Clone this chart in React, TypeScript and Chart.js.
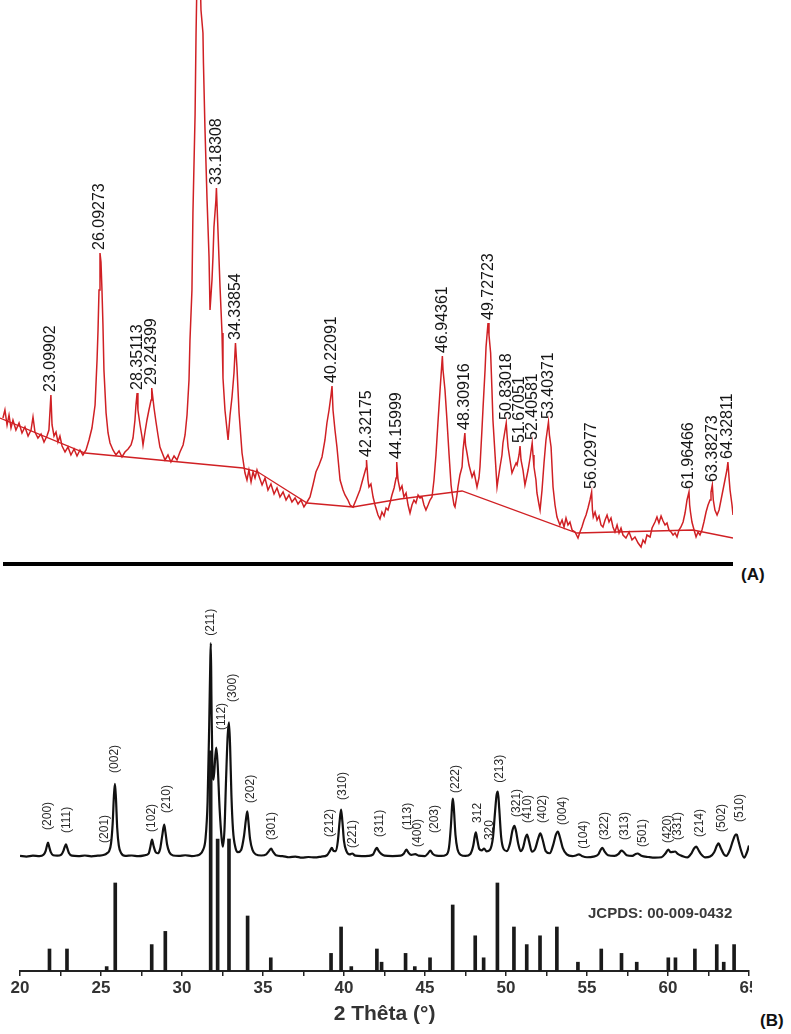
import React, { useEffect, useRef } from "react";
import { Chart, registerables } from "chart.js";

Chart.register(...registerables);

// ---------- Panel (A): measured pattern, 2θ (°) vs intensity (a.u.) ----------
const A_PATTERN: [number, number][] = [
  [20.18,147],[20.30,155],[20.43,140],[20.55,150],[20.67,137],[20.79,145],[20.97,135],[21.16,142],[21.34,132],[21.52,138],
  [21.71,129],[21.89,135],[22.01,148],[22.13,133],[22.31,127],[22.50,131],[22.68,123],[22.86,129],[22.98,135],[23.10,170],
  [23.17,140],[23.29,129],[23.41,133],[23.53,123],[23.65,129],[23.78,119],[23.96,113],[24.14,118],[24.32,110],[24.51,116],
  [24.69,109],[24.87,115],[25.05,110],[25.24,115],[25.42,125],[25.60,137],[25.79,160],[25.91,205],[25.97,235],[26.03,275],
  [26.09,312],[26.15,303],[26.21,275],[26.27,240],[26.33,195],[26.46,152],[26.58,132],[26.70,122],[26.88,115],[27.06,110],
  [27.25,114],[27.43,108],[27.61,113],[27.80,116],[27.98,120],[28.10,127],[28.22,145],[28.28,160],[28.35,172],[28.40,155],
  [28.53,140],[28.65,128],[28.71,120],[28.83,133],[28.95,145],[29.07,155],[29.20,165],[29.24,177],[29.38,157],[29.50,143],
  [29.62,130],[29.74,118],[29.93,110],[30.05,105],[30.23,110],[30.41,103],[30.60,109],[30.78,105],[30.96,113],[31.15,120],
  [31.27,130],[31.39,150],[31.51,185],[31.57,225],[31.69,275],[31.75,352],[31.88,450],[31.94,532],[32.00,590],[32.06,610],
  [32.12,600],[32.18,595],[32.24,555],[32.36,532],[32.39,502],[32.48,438],[32.61,365],[32.73,308],[32.79,255],[32.91,285],
  [32.97,308],[33.03,338],[33.15,365],[33.18,377],[33.28,332],[33.40,278],[33.52,232],[33.58,187],[33.70,155],[33.89,125],
  [34.01,150],[34.13,168],[34.25,192],[34.34,222],[34.43,198],[34.56,152],[34.74,112],[34.92,92],[35.04,85],[35.16,95],
  [35.29,83],[35.41,93],[35.53,87],[35.65,95],[35.77,89],[35.96,80],[36.14,87],[36.32,75],[36.50,81],[36.69,71],
  [36.87,77],[37.05,68],[37.24,73],[37.42,65],[37.60,70],[37.78,63],[37.97,67],[38.15,61],[38.33,65],[38.51,58],
  [38.70,63],[38.88,68],[39.06,80],[39.24,93],[39.43,100],[39.61,108],[39.79,125],[39.91,142],[40.04,155],[40.16,170],
  [40.22,179],[40.28,155],[40.40,135],[40.52,118],[40.71,85],[40.89,75],[41.01,70],[41.19,65],[41.32,60],[41.50,58],
  [41.68,65],[41.80,70],[41.92,75],[42.05,83],[42.17,90],[42.29,97],[42.32,105],[42.41,85],[42.47,78],[42.59,81],
  [42.72,68],[42.84,60],[43.02,50],[43.14,46],[43.26,53],[43.39,49],[43.51,57],[43.63,55],[43.75,62],[43.87,70],
  [44.00,77],[44.12,87],[44.16,103],[44.24,85],[44.36,75],[44.48,79],[44.60,68],[44.73,72],[44.85,60],[44.97,52],
  [45.09,60],[45.21,65],[45.33,62],[45.46,70],[45.58,67],[45.70,68],[45.82,60],[45.94,55],[46.07,60],[46.19,65],
  [46.31,68],[46.43,85],[46.55,110],[46.67,142],[46.80,175],[46.94,209],[46.98,195],[47.10,175],[47.22,145],[47.35,110],
  [47.47,80],[47.53,72],[47.65,60],[47.71,58],[47.83,70],[47.89,78],[48.01,90],[48.14,98],[48.20,115],[48.31,132],
  [48.35,120],[48.44,112],[48.56,100],[48.75,88],[48.87,93],[49.05,78],[49.17,87],[49.23,98],[49.35,135],[49.42,158],
  [49.54,195],[49.60,218],[49.72,242],[49.78,230],[49.88,212],[49.96,175],[50.02,145],[50.15,110],[50.27,78],[50.33,85],
  [50.45,98],[50.57,110],[50.63,122],[50.76,135],[50.83,142],[50.88,130],[50.94,118],[51.06,105],[51.18,92],[51.30,97],
  [51.43,102],[51.49,100],[51.61,110],[51.67,119],[51.73,105],[51.85,95],[51.97,80],[52.10,90],[52.16,95],[52.28,107],
  [52.41,122],[52.46,110],[52.52,98],[52.64,85],[52.70,72],[52.83,60],[52.89,55],[53.01,75],[53.13,102],[53.25,125],
  [53.40,143],[53.46,130],[53.56,118],[53.68,78],[53.80,60],[53.92,48],[54.10,40],[54.23,45],[54.35,38],[54.47,47],
  [54.59,40],[54.71,43],[54.84,35],[55.02,33],[55.20,27],[55.32,33],[55.44,38],[55.57,45],[55.69,50],[55.81,57],
  [55.93,65],[56.03,73],[56.08,55],[56.13,48],[56.24,53],[56.36,45],[56.48,49],[56.60,40],[56.72,38],[56.85,45],
  [56.97,50],[57.09,43],[57.21,47],[57.33,38],[57.45,33],[57.58,40],[57.70,32],[57.82,37],[57.94,30],[58.12,27],
  [58.31,33],[58.49,25],[58.67,28],[58.86,22],[59.04,18],[59.16,25],[59.28,22],[59.40,30],[59.59,28],[59.71,37],
  [59.89,43],[60.01,48],[60.13,42],[60.26,49],[60.38,44],[60.50,40],[60.62,42],[60.74,35],[60.87,33],[60.99,30],
  [61.11,32],[61.23,28],[61.35,35],[61.47,38],[61.60,43],[61.72,52],[61.84,65],[61.96,73],[62.00,60],[62.05,53],
  [62.14,43],[62.27,35],[62.39,28],[62.51,33],[62.63,30],[62.75,35],[62.87,43],[63.00,53],[63.12,60],[63.24,65],
  [63.30,73],[63.38,80],[63.44,65],[63.54,55],[63.67,50],[63.79,55],[63.91,65],[64.03,75],[64.15,85],[64.27,95],
  [64.33,103],[64.40,87],[64.46,75],[64.58,60],[64.64,50],
];

const A_BACKGROUND: [number, number][] = [
  [20.0,147],[25.18,112],[34.80,97],[35.71,93],[38.70,62],[41.50,58],[44.36,66],[48.14,74],[55.14,32],[62.20,35],[64.64,27],
];

const A_PEAK_LABELS = [
  "23.09902","26.09273","28.35113","29.24399","33.18308","34.33854","40.22091","42.32175","44.15999","46.94361",
  "48.30916","49.72723","50.83018","51.67051","52.40581","53.40371","56.02977","61.96466","63.38273","64.32811",
];
const A_PEAK_HEIGHTS = [170,312,172,177,377,222,179,105,103,209,132,242,142,119,122,143,73,73,80,103];

// ---------- Panel (B): sample pattern + JCPDS 00-009-0432 reference ----------
const B_PATTERN: [number, number][] = [
  [20.0,0.3],[20.4,0],[20.8,0.4],[21.2,0.2],[21.45,0.8],[21.58,2.5],[21.66,4.8],[21.73,6.4],[21.80,4.5],[21.9,2.0],
  [22.05,0.6],[22.3,0.4],[22.55,0.9],[22.68,2.6],[22.77,4.6],[22.84,5.5],[22.92,3.8],[23.02,1.6],[23.2,0.4],[23.6,0.2],
  [24.0,0.5],[24.4,0.1],[24.8,0.4],[25.2,0.8],[25.38,1.6],[25.5,2.5],[25.62,6],[25.72,15],[25.8,28],[25.86,33],
  [25.92,27],[26.0,13],[26.1,5],[26.25,1.5],[26.5,0.3],[26.9,0.5],[27.3,0.2],[27.7,0.6],[27.95,1.5],[28.05,4.5],
  [28.15,7.7],[28.24,5],[28.36,2.2],[28.5,1.5],[28.65,3.5],[28.78,9.5],[28.9,14.5],[28.98,11],[29.08,5.5],[29.22,2],
  [29.45,0.5],[29.8,0.3],[30.2,0.6],[30.6,0.2],[30.9,0.5],[31.1,1],[31.3,3],[31.45,8],[31.58,25],[31.68,60],
  [31.75,90],[31.78,97],[31.82,70],[31.88,40],[31.95,35],[32.05,45],[32.12,49.5],[32.2,42],[32.32,22],[32.45,8],
  [32.52,4.5],[32.62,12],[32.72,35],[32.82,55],[32.9,61],[32.97,50],[33.05,28],[33.15,12],[33.3,4],[33.45,2],
  [33.65,3],[33.82,9],[33.95,17],[34.03,20.5],[34.1,16],[34.2,8],[34.35,3],[34.55,1],[34.9,0.5],[35.2,1],
  [35.38,2.6],[35.5,3.6],[35.62,2.2],[35.8,0.6],[36.2,0.2],[36.6,-0.3],[37.0,0],[37.4,-0.5],[37.8,-0.2],[38.2,-0.4],
  [38.6,0],[38.95,0.6],[39.15,2.8],[39.25,4],[39.35,2.6],[39.5,2.5],[39.62,7],[39.73,16],[39.82,21.4],[39.9,16],
  [40.0,7],[40.15,2.5],[40.35,1],[40.5,1.4],[40.7,0.4],[41.1,0.2],[41.5,0.3],[41.8,1],[41.93,3],[42.03,4],
  [42.12,2.8],[42.3,1.2],[42.5,0.4],[43.0,0.2],[43.5,0.4],[43.7,1.4],[43.85,3.2],[43.98,1.8],[44.15,0.8],[44.4,1.1],
  [44.6,0.4],[45.0,0.2],[45.18,1.4],[45.33,2.7],[45.47,1.3],[45.7,0.4],[46.0,0.3],[46.3,0.8],[46.48,4],[46.6,14],
  [46.68,24],[46.72,26.4],[46.78,22],[46.88,10],[47.0,3.5],[47.2,0.8],[47.5,0.3],[47.8,1.2],[47.98,5],[48.08,9.5],
  [48.14,11],[48.22,8],[48.35,3.5],[48.5,2.8],[48.65,3.6],[48.8,2.4],[49.0,3],[49.2,9],[49.32,20],[49.42,28],
  [49.5,29.5],[49.58,22],[49.7,9],[49.85,3.5],[50.05,2.5],[50.25,6],[50.4,12],[50.52,14],[50.62,11.5],[50.75,6],
  [50.9,2.5],[51.05,4],[51.2,8.5],[51.3,10],[51.42,7],[51.6,2.2],[51.8,3.5],[51.98,8],[52.12,10.5],[52.25,8],
  [52.45,2.5],[52.7,1.5],[52.9,5],[53.08,10],[53.2,11.4],[53.32,9],[53.5,4],[53.75,1],[54.1,0.2],[54.35,0.6],
  [54.5,1],[54.68,0.3],[55.0,-0.3],[55.4,0],[55.7,1],[55.85,3.2],[55.95,4],[56.08,2.4],[56.3,0.6],[56.7,0.3],
  [56.95,1.2],[57.12,2.7],[57.25,2.2],[57.45,0.6],[57.8,0.3],[58.0,1.2],[58.12,1.4],[58.35,0.4],[58.8,-0.2],[59.2,-0.5],
  [59.6,-0.3],[59.85,1.5],[60.02,3.2],[60.15,2],[60.3,2.1],[60.45,2.3],[60.6,1.2],[60.9,0.2],[61.2,-0.4],[61.45,1.5],
  [61.62,3.8],[61.75,4.5],[61.88,3],[62.05,1],[62.3,-0.4],[62.6,0],[62.85,2],[63.02,5],[63.12,6],[63.25,4],
  [63.45,1],[63.6,0.3],[63.82,3],[64.02,7.5],[64.18,10],[64.25,10],[64.32,8],[64.5,3],[64.7,-0.5],[64.85,1.5],
  [65.0,5],
];
const B_PATTERN_OFFSET = 52; // vertical shift of the sample pattern above the reference sticks

const JCPDS_TWO_THETA = [
  21.82,22.90,25.35,25.88,28.13,28.97,31.77,32.20,32.90,34.05,35.48,39.20,39.82,40.45,42.03,42.32,43.80,44.37,45.31,
  46.71,48.10,48.62,49.47,50.49,51.28,52.10,53.14,54.44,55.88,57.13,58.07,60.02,60.46,61.66,63.01,63.44,64.08,
];
const JCPDS_I = [
  10,10,2,40,12,18,100,60,60,25,6,8,20,2,10,4,8,2,6,30,16,6,40,20,12,16,20,4,10,8,4,6,6,10,12,4,12,
];

const HKL_LABELS = [
  "(200)","(111)","(201)","(002)","(102)","(210)","(211)","(112)","(300)","(202)","(301)","(212)","(310)","(221)",
  "(311)","(113)","(400)","(203)","(222)","312","320","(213)","(321)","(410)","(402)","(004)","(104)","(322)",
  "(313)","(501)","(420)","(331)","(214)","(502)","(510)",
];
const HKL_TWO_THETA = [
  21.73,22.9,25.25,25.86,28.15,29.07,31.79,32.47,33.15,34.26,35.56,39.14,39.94,40.56,42.22,43.95,44.57,45.62,
  46.91,48.27,49.01,49.63,50.68,51.36,52.28,53.52,54.81,56.11,57.35,58.46,60.0,60.62,61.98,63.33,64.44,
];
const HKL_LABEL_Y = [
  64.1,62.7,58.2,90,63.2,71.8,152.3,109.5,122.3,76.4,59.5,60.9,77.7,55.9,60.9,64.1,56.4,62.7,80.9,67.3,59.5,
  85.5,70,67.3,67.3,66.4,55.5,59.5,59.5,56.4,58.2,59.5,60.9,63.2,67.7,
];

const X_MIN = 20;
const X_MAX = 65;
const X_STEP = 2.5;
const X_TITLE = "2 Thêta (°)";
const JCPDS_TEXT = "JCPDS: 00-009-0432";

const FONT = '"Liberation Sans", Arial, sans-serif';
const RED = "rgb(208,32,36)";

const peakLabelsA = {
  id: "peakLabelsA",
  afterDatasetsDraw(chart: any) {
    const { ctx, scales } = chart;
    ctx.save();
    ctx.font = `16px ${FONT}`;
    ctx.fillStyle = "#151515";
    ctx.textAlign = "left";
    ctx.textBaseline = "middle";
    A_PEAK_LABELS.forEach((t, i) => {
      const px = scales.x.getPixelForValue(parseFloat(t));
      const py = scales.y.getPixelForValue(A_PEAK_HEIGHTS[i]) - 3;
      ctx.save();
      ctx.translate(px, py);
      ctx.rotate(-Math.PI / 2);
      ctx.fillText(t, 0, 0);
      ctx.restore();
    });
    ctx.restore();
  },
};

const hklLabelsB = {
  id: "hklLabelsB",
  afterDatasetsDraw(chart: any) {
    const { ctx, scales } = chart;
    ctx.save();
    ctx.font = `12px ${FONT}`;
    ctx.fillStyle = "#2a2a2a";
    ctx.textAlign = "left";
    ctx.textBaseline = "middle";
    HKL_LABELS.forEach((t, i) => {
      const px = scales.x.getPixelForValue(HKL_TWO_THETA[i]);
      const py = scales.y.getPixelForValue(HKL_LABEL_Y[i]);
      ctx.save();
      ctx.translate(px, py);
      ctx.rotate(-Math.PI / 2);
      ctx.fillText(t, 0, 0);
      ctx.restore();
    });
    ctx.restore();
  },
};

export default function App() {
  const refA = useRef<HTMLCanvasElement>(null);
  const refB = useRef<HTMLCanvasElement>(null);

  useEffect(() => {
    const chartA = new Chart(refA.current as HTMLCanvasElement, {
      type: "line",
      data: {
        datasets: [
          {
            data: A_PATTERN.map(([x, y]) => ({ x, y })),
            borderColor: RED,
            borderWidth: 1.5,
            pointRadius: 0,
            tension: 0,
          },
          {
            data: A_BACKGROUND.map(([x, y]) => ({ x, y })),
            borderColor: RED,
            borderWidth: 1.3,
            pointRadius: 0,
            tension: 0,
          },
        ],
      },
      options: {
        animation: false,
        responsive: false,
        events: [],
        layout: { padding: 0 },
        plugins: { legend: { display: false }, tooltip: { enabled: false } },
        scales: {
          x: { type: "linear", min: 20, max: 64.64, display: false },
          y: { min: 0, max: 565, display: false },
        },
      },
      plugins: [peakLabelsA],
    } as any);

    const chartB = new Chart(refB.current as HTMLCanvasElement, {
      type: "line",
      data: {
        datasets: [
          {
            type: "line",
            data: B_PATTERN.map(([x, y]) => ({ x, y: y + B_PATTERN_OFFSET })),
            borderColor: "#111",
            borderWidth: 2.2,
            pointRadius: 0,
            tension: 0.3,
            cubicInterpolationMode: "monotone",
          },
          {
            type: "bar",
            data: JCPDS_TWO_THETA.map((x, i) => ({ x, y: JCPDS_I[i] })),
            backgroundColor: "#1a1a1a",
            borderWidth: 0,
            barThickness: 3,
          },
        ],
      },
      options: {
        animation: false,
        responsive: false,
        events: [],
        layout: { padding: { left: 20, right: 42, top: 0, bottom: 0 } },
        plugins: { legend: { display: false }, tooltip: { enabled: false } },
        scales: {
          x: {
            type: "linear",
            min: X_MIN,
            max: X_MAX,
            offset: false,
            afterFit: (s: any) => {
              s.height = 63;
            },
            ticks: {
              stepSize: X_STEP,
              autoSkip: false,
              maxRotation: 0,
              padding: 2,
              color: "#333",
              font: { family: FONT, size: 17, weight: "bold" },
              callback: (v: any) => (Number(v) % 5 === 0 ? String(v) : ""),
            },
            grid: {
              display: true,
              drawOnChartArea: false,
              drawTicks: true,
              tickLength: 5,
              color: "#222",
              lineWidth: 1.5,
              offset: false,
            },
            border: { display: true, color: "#222", width: 2 },
            title: {
              display: true,
              text: X_TITLE,
              color: "#333",
              font: { family: FONT, size: 21, weight: "bold" },
              padding: { top: 0, bottom: 7 },
            },
          },
          y: { min: 0, max: 168.6, display: false },
        },
      },
      plugins: [hklLabelsB],
    } as any);

    return () => {
      chartA.destroy();
      chartB.destroy();
    };
  }, []);

  return (
    <div
      style={{
        position: "absolute",
        left: 0,
        top: 0,
        width: 791,
        height: 1034,
        background: "#fff",
        overflow: "hidden",
        fontFamily: FONT,
      }}
    >
      <canvas ref={refA} width={733} height={565} style={{ position: "absolute", left: 0, top: 0 }} />
      <div style={{ position: "absolute", left: 3, top: 562, width: 730, height: 3.5, background: "#000" }} />
      <div
        style={{
          position: "absolute",
          left: 741,
          top: 565,
          fontSize: 17,
          fontWeight: "bold",
          lineHeight: "20px",
          color: "#111",
        }}
      >
        (A)
      </div>
      <div style={{ position: "absolute", left: 0, top: 600, width: 752, height: 434, overflow: "hidden" }}>
        <canvas ref={refB} width={791} height={434} style={{ display: "block" }} />
      </div>
      <div
        style={{
          position: "absolute",
          left: 588,
          top: 904,
          fontSize: 15,
          fontWeight: "bold",
          lineHeight: "18px",
          color: "#3a3a3a",
          whiteSpace: "nowrap",
        }}
      >
        {JCPDS_TEXT}
      </div>
      <div
        style={{
          position: "absolute",
          left: 760,
          top: 1011,
          fontSize: 17,
          fontWeight: "bold",
          lineHeight: "20px",
          color: "#111",
        }}
      >
        (B)
      </div>
    </div>
  );
}
